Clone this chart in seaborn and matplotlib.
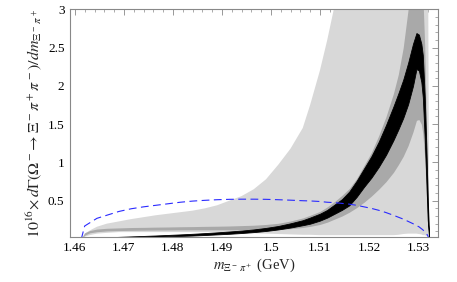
import matplotlib
matplotlib.use("Agg")
import matplotlib.pyplot as plt
import seaborn as sns
import pandas as pd
from matplotlib.ticker import FixedLocator, MultipleLocator

# invariant mass grid (GeV)
m = [1.4613, 1.462, 1.463, 1.4645, 1.4665, 1.469, 1.4715, 1.474, 1.4765, 1.479,
     1.4815, 1.484, 1.4865, 1.489, 1.4915, 1.494, 1.4965, 1.499, 1.5015, 1.504,
     1.5065, 1.508, 1.51, 1.5115, 1.513, 1.5145, 1.516, 1.5175, 1.519, 1.5205,
     1.522, 1.5235, 1.525, 1.526, 1.527, 1.528, 1.529, 1.5297, 1.5302, 1.5307,
     1.531, 1.5314, 1.5317, 1.532, 1.5323]

# outer (light gray) band
light_lo = [0, 0.03, 0.05, 0.07, 0.08, 0.09, 0.09, 0.09, 0.09, 0.09,
            0.09, 0.09, 0.09, 0.09, 0.085, 0.08, 0.075, 0.07, 0.065, 0.06,
            0.055, 0.055, 0.05, 0.05, 0.05, 0.05, 0.05, 0.05, 0.05, 0.05,
            0.05, 0.05, 0.05, 0.055, 0.065, 0.07, 0.07, 0.07, 0.065, 0.06,
            0.05, 0.05, 0.04, 0.03, 0]
light_hi = [0, 0.07, 0.11, 0.16, 0.20, 0.23, 0.26, 0.285, 0.31, 0.33,
            0.35, 0.37, 0.40, 0.44, 0.50, 0.56, 0.65, 0.78, 0.97, 1.18,
            1.45, 1.75, 2.2, 2.6, 3.05, 3.5, 4.0, 5, 5, 5,
            5, 5, 5, 5, 5, 5, 5, 5, 5, 5,
            5, 5, 5, 5, 0]

# middle (dark gray) band
dark_lo = [0, 0.05, 0.08, 0.095, 0.105, 0.11, 0.113, 0.115, 0.117, 0.118,
           0.12, 0.12, 0.12, 0.12, 0.12, 0.12, 0.12, 0.12, 0.125, 0.135,
           0.15, 0.165, 0.19, 0.22, 0.26, 0.30, 0.35, 0.41, 0.48, 0.56,
           0.65, 0.75, 0.87, 0.97, 1.08, 1.22, 1.4, 1.55, 1.56, 1.5,
           1.38, 1.05, 0.6, 0.2, 0]
dark_hi = [0, 0.08, 0.11, 0.13, 0.14, 0.145, 0.15, 0.152, 0.155, 0.157,
           0.16, 0.162, 0.165, 0.167, 0.17, 0.175, 0.18, 0.19, 0.205, 0.235,
           0.275, 0.31, 0.36, 0.42, 0.49, 0.57, 0.66, 0.79, 0.96, 1.13,
           1.35, 1.6, 1.9, 2.15, 2.5, 3.0, 3.4, 3.6, 3.6, 3.45,
           3.2, 2.5, 1.6, 0.7, 0]

# central (black) band
black_lo = [0, 0.003, 0.006, 0.01, 0.014, 0.018, 0.022, 0.026, 0.03, 0.035,
            0.04, 0.045, 0.052, 0.06, 0.068, 0.078, 0.09, 0.105, 0.125, 0.15,
            0.18, 0.2, 0.24, 0.28, 0.33, 0.38, 0.44, 0.55, 0.68, 0.80,
            0.94, 1.10, 1.29, 1.43, 1.58, 1.76, 2.0, 2.22, 2.2, 2.05,
            1.85, 1.30, 0.80, 0.25, 0]
black_hi = [0, 0.008, 0.012, 0.017, 0.022, 0.028, 0.034, 0.04, 0.046, 0.053,
            0.06, 0.068, 0.077, 0.087, 0.098, 0.11, 0.125, 0.145, 0.17, 0.205,
            0.245, 0.28, 0.33, 0.38, 0.45, 0.52, 0.62, 0.76, 0.92, 1.08,
            1.27, 1.49, 1.73, 1.90, 2.08, 2.3, 2.55, 2.69, 2.67, 2.55,
            2.40, 1.85, 1.25, 0.55, 0]

# blue dashed curve
blue = [0, 0.17, 0.21, 0.27, 0.31, 0.36, 0.395, 0.42, 0.44, 0.46,
        0.48, 0.495, 0.505, 0.513, 0.518, 0.52, 0.52, 0.518, 0.513, 0.507,
        0.5, 0.497, 0.49, 0.48, 0.475, 0.465, 0.455, 0.44, 0.42, 0.40,
        0.375, 0.345, 0.31, 0.285, 0.26, 0.23, 0.2, 0.175, 0.16, 0.135,
        0.12, 0.095, 0.075, 0.045, 0]

x_ticks = [1.46, 1.47, 1.48, 1.49, 1.50, 1.51, 1.52, 1.53]
x_labels = ["1.46", "1.47", "1.48", "1.49", "1.5", "1.51", "1.52", "1.53"]
y_ticks = [0.5, 1, 1.5, 2, 2.5, 3]
y_labels = ["0.5", "1", "1.5", "2", "2.5", "3"]

df = pd.DataFrame({"m": m, "blue": blue})

sns.set_theme(style="white")
plt.rcParams["font.family"] = ["Liberation Serif", "DejaVu Serif"]
plt.rcParams["mathtext.fontset"] = "stix"

fig = plt.figure(figsize=(4.57, 2.82), dpi=100)
ax = fig.add_axes([70 / 457, 45.3 / 282, 368 / 457, 227.4 / 282])

ax.fill_between(m, light_lo, light_hi, color="#d8d8d8", linewidth=0)
ax.fill_between(m, dark_lo, dark_hi, color="#a9a9a9", linewidth=0)
ax.fill_between(m, black_lo, black_hi, color="black", linewidth=0.6, edgecolor="black")
sns.lineplot(data=df, x="m", y="blue", ax=ax, color="#2a2aff", linewidth=0.8,
             linestyle=(0, (7, 4)), estimator=None, sort=False)

ax.set_xlim(1.459, 1.5341)
ax.set_ylim(0.03, 3)

ax.xaxis.set_major_locator(FixedLocator(x_ticks))
ax.set_xticklabels(x_labels)
ax.xaxis.set_minor_locator(MultipleLocator(0.002))
ax.yaxis.set_major_locator(FixedLocator(y_ticks))
ax.set_yticklabels(y_labels)
ax.yaxis.set_minor_locator(MultipleLocator(0.1))

ax.tick_params(which="both", direction="in", top=True, right=True, colors="#888888",
               labelcolor="black", labelsize=9.5, pad=4)
ax.tick_params(which="major", length=4, width=0.6)
ax.tick_params(which="minor", length=2, width=0.5)
for s in ax.spines.values():
    s.set_color("#888888")
    s.set_linewidth(0.8)

ax.set_xlabel(r"$m_{\Xi^-\,\pi^+}$ (GeV)", fontsize=10.5, labelpad=2)
ax.set_ylabel(r"$10^{16}\!\times d\Gamma(\Omega^-\!\rightarrow\Xi^-\pi^+\pi^-)/dm_{\Xi^-\,\pi^+}$",
              fontsize=11.5, labelpad=3)

fig.savefig("out.png", dpi=100)
